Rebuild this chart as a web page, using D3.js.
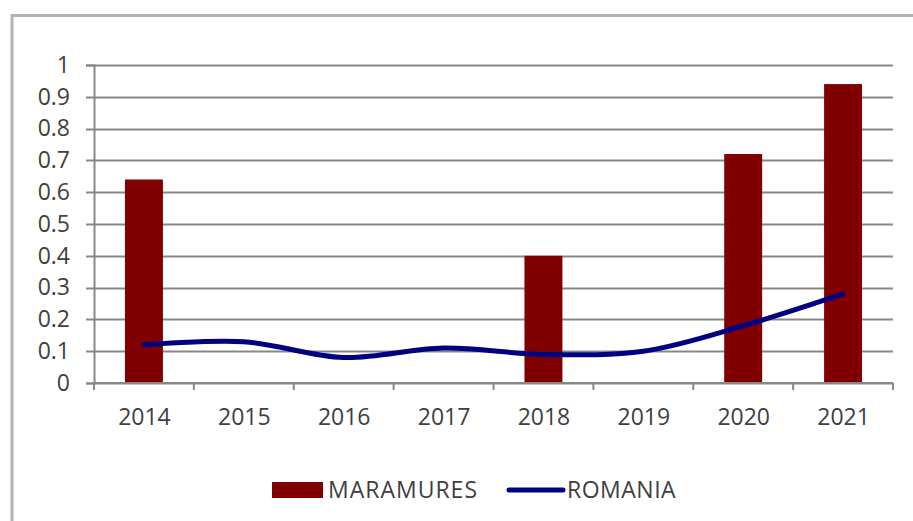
<!DOCTYPE html>
<html>
<head>
<meta charset="utf-8">
<script src="https://cdn.jsdelivr.net/npm/d3@7"></script>
<style>
  body { margin: 0; background: #fff; }
  text { font-family: "Open Sans", "Liberation Sans", sans-serif; fill: #404040; }
</style>
</head>
<body>
<div id="chart"></div>
<script>
var years = ["2014", "2015", "2016", "2017", "2018", "2019", "2020", "2021"];
var maramures = [0.64, null, null, null, 0.40, null, 0.72, 0.94];
var romania = [0.12, 0.13, 0.08, 0.11, 0.09, 0.10, 0.18, 0.28];
var yTicks = [0, 0.1, 0.2, 0.3, 0.4, 0.5, 0.6, 0.7, 0.8, 0.9, 1];

var svgWidth = 913;
var svgHeight = 521;

var margin = { top: 65, right: 20, bottom: 138, left: 94 };
var chartWidth = 893 - margin.left;
var chartHeight = 383 - margin.top;

var svg = d3.select("#chart")
  .append("svg")
  .attr("width", svgWidth)
  .attr("height", svgHeight);

// outer frame (only top and left edges visible)
svg.append("rect")
  .attr("x", 12)
  .attr("y", 15.5)
  .attr("width", 940)
  .attr("height", 540)
  .attr("fill", "none")
  .attr("stroke", "#b3b3b3")
  .attr("stroke-width", 3);

var g = svg.append("g")
  .attr("transform", `translate(${margin.left}, ${margin.top})`);

var x = d3.scaleBand()
  .domain(years)
  .range([0, chartWidth])
  .paddingInner(0.62)
  .paddingOuter(0.31);

var xPoint = d3.scalePoint()
  .domain(years)
  .range([0, chartWidth])
  .padding(0.5);

var y = d3.scaleLinear()
  .domain([0, 1])
  .range([chartHeight, 0]);

// gridlines
g.append("g")
  .selectAll("line")
  .data(yTicks)
  .enter()
  .append("line")
  .attr("x1", -8)
  .attr("x2", chartWidth)
  .attr("y1", d => Math.round(y(d)) + 0.5)
  .attr("y2", d => Math.round(y(d)) + 0.5)
  .attr("stroke", "#878787")
  .attr("stroke-width", 2);

// y axis
var leftAxis = d3.axisLeft(y)
  .tickValues(yTicks)
  .tickFormat(d => d)
  .tickSize(8)
  .tickPadding(16);

var yAxis = g.append("g").call(leftAxis);
yAxis.select(".domain").attr("stroke", "#878787").attr("stroke-width", 2);
yAxis.selectAll(".tick line").remove();
yAxis.selectAll("text")
  .style("font-size", "23px")
  .attr("fill", "#404040");

// bars
g.selectAll(".bar")
  .data(years.map((d, i) => ({ year: d, value: maramures[i] })).filter(d => d.value != null))
  .enter()
  .append("rect")
  .attr("class", "bar")
  .attr("x", d => x(d.year))
  .attr("y", d => y(d.value))
  .attr("width", x.bandwidth())
  .attr("height", d => chartHeight - y(d.value))
  .attr("fill", "#800000");

// x axis
var bottomAxis = d3.axisBottom(xPoint).tickSize(0).tickPadding(26);
var xAxis = g.append("g")
  .attr("transform", `translate(0, ${chartHeight})`)
  .call(bottomAxis);
xAxis.select(".domain").remove();
xAxis.selectAll("text")
  .style("font-size", "23px")
  .attr("fill", "#404040");

xAxis.append("line")
  .attr("x1", 0)
  .attr("x2", chartWidth)
  .attr("y1", 0)
  .attr("y2", 0)
  .attr("stroke", "#878787")
  .attr("stroke-width", 2);

var step = chartWidth / years.length;
xAxis.selectAll(".xtick")
  .data(d3.range(years.length + 1))
  .enter()
  .append("line")
  .attr("x1", d => d * step)
  .attr("x2", d => d * step)
  .attr("y1", 0)
  .attr("y2", 7)
  .attr("stroke", "#878787")
  .attr("stroke-width", 2);

// romania line
var line = d3.line()
  .x((d, i) => xPoint(years[i]))
  .y(d => y(d))
  .curve(d3.curveCatmullRom.alpha(0.5));

g.append("path")
  .datum(romania)
  .attr("d", line)
  .attr("fill", "none")
  .attr("stroke", "#000080")
  .attr("stroke-width", 5)
  .attr("stroke-linecap", "round")
  .attr("stroke-linejoin", "round");

// legend
var legend = svg.append("g").attr("transform", "translate(0, 490)");

legend.append("rect")
  .attr("x", 272)
  .attr("y", -8)
  .attr("width", 51)
  .attr("height", 16)
  .attr("fill", "#800000");

legend.append("text")
  .attr("x", 328)
  .attr("y", 0)
  .attr("dy", "0.35em")
  .style("font-size", "23px")
  .style("letter-spacing", "1px")
  .text("MARAMURES");

legend.append("line")
  .attr("x1", 509)
  .attr("x2", 563)
  .attr("y1", 0)
  .attr("y2", 0)
  .attr("stroke", "#000080")
  .attr("stroke-width", 5)
  .attr("stroke-linecap", "round");

legend.append("text")
  .attr("x", 567)
  .attr("y", 0)
  .attr("dy", "0.35em")
  .style("font-size", "23px")
  .style("letter-spacing", "0.5px")
  .text("ROMANIA");
</script>
</body>
</html>
